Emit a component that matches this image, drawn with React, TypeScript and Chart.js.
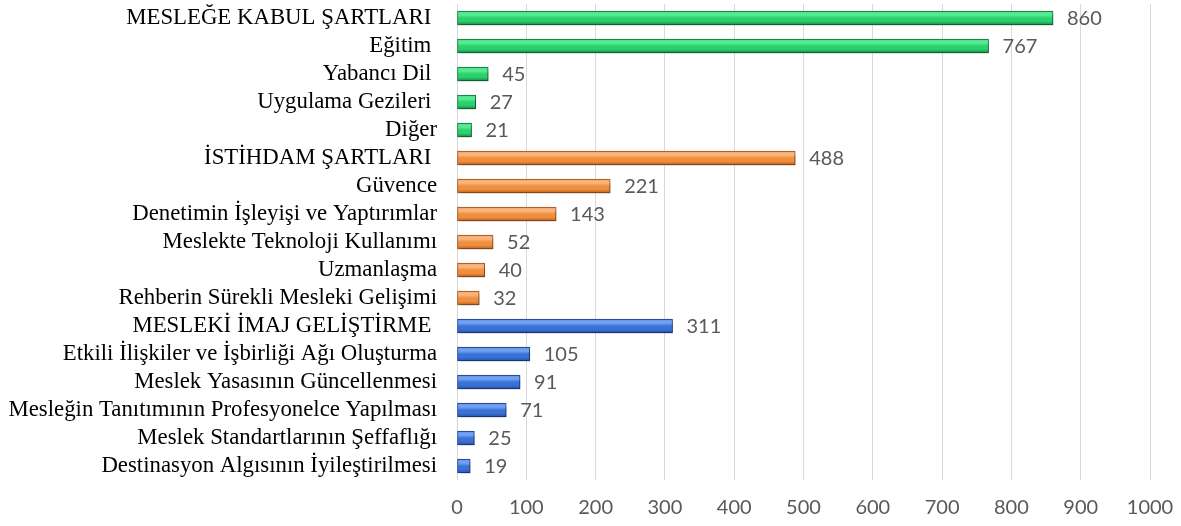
import React, { useEffect, useRef } from "react";
import { Chart, registerables } from "chart.js";

Chart.register(...registerables);

const categories = [
  "MESLEĞE KABUL ŞARTLARI ",
  "Eğitim ",
  "Yabancı Dil ",
  "Uygulama Gezileri ",
  "Diğer",
  "İSTİHDAM ŞARTLARI ",
  "Güvence",
  "Denetimin İşleyişi ve Yaptırımlar",
  "Meslekte Teknoloji Kullanımı",
  "Uzmanlaşma",
  "Rehberin Sürekli Mesleki Gelişimi",
  "MESLEKİ İMAJ GELİŞTİRME ",
  "Etkili İlişkiler ve İşbirliği Ağı Oluşturma",
  "Meslek Yasasının Güncellenmesi",
  "Mesleğin Tanıtımının Profesyonelce Yapılması",
  "Meslek Standartlarının Şeffaflığı",
  "Destinasyon Algısının İyileştirilmesi",
];

const values = [860, 767, 45, 27, 21, 488, 221, 143, 52, 40, 32, 311, 105, 91, 71, 25, 19];

// group of each category: 0 = green, 1 = orange, 2 = blue
const groups = [0, 0, 0, 0, 0, 1, 1, 1, 1, 1, 1, 2, 2, 2, 2, 2, 2];

const xTicks = [0, 100, 200, 300, 400, 500, 600, 700, 800, 900, 1000];

const palette = [
  { dark: "#137a3a", mid: "#20a957", base: "#2bd16f", light: "#55ea93" },
  { dark: "#a8561e", mid: "#d97530", base: "#f0903f", light: "#f8b47c" },
  { dark: "#1d4290", mid: "#2f5fc0", base: "#3a73d8", light: "#72a0f0" },
];

const BAR_H = 14;

const shadowPlugin = {
  id: "barShadow",
  beforeDatasetsDraw(chart: any) {
    const ctx = chart.ctx;
    ctx.save();
    ctx.shadowColor = "rgba(0,0,0,0.35)";
    ctx.shadowBlur = 4;
    ctx.shadowOffsetX = 2;
    ctx.shadowOffsetY = 3;
  },
  afterDatasetsDraw(chart: any) {
    chart.ctx.restore();
  },
};

const valueLabelPlugin = {
  id: "valueLabels",
  afterDraw(chart: any) {
    const ctx = chart.ctx;
    const meta = chart.getDatasetMeta(0);
    ctx.save();
    ctx.fillStyle = "#595959";
    ctx.font = "20px Lato, 'Open Sans', sans-serif";
    ctx.textAlign = "left";
    ctx.textBaseline = "middle";
    meta.data.forEach((bar: any, i: number) => {
      ctx.fillText(String(values[i]), bar.x + 14, bar.y + 1);
    });
    ctx.restore();
  },
};

export default function App() {
  const canvasRef = useRef<HTMLCanvasElement | null>(null);

  useEffect(() => {
    document.body.style.margin = "0";
    const canvas = canvasRef.current;
    if (!canvas) return;

    const makeFill = (c: any) => {
      const g = groups[c.dataIndex] ?? 0;
      const p = palette[g];
      const chart = c.chart;
      const yScale = chart.scales && chart.scales.y;
      if (!yScale || c.dataIndex == null) return p.base;
      const py = yScale.getPixelForValue(c.dataIndex);
      if (!Number.isFinite(py)) return p.base;
      const grad = chart.ctx.createLinearGradient(0, py - BAR_H / 2, 0, py + BAR_H / 2);
      grad.addColorStop(0, p.mid);
      grad.addColorStop(0.12, p.light);
      grad.addColorStop(0.3, p.light);
      grad.addColorStop(0.5, p.base);
      grad.addColorStop(0.72, p.base);
      grad.addColorStop(0.88, p.mid);
      grad.addColorStop(1, p.dark);
      return grad;
    };

    const chart = new Chart(canvas, {
      type: "bar",
      data: {
        labels: categories,
        datasets: [
          {
            data: values,
            backgroundColor: makeFill,
            borderColor: (c: any) => palette[groups[c.dataIndex] ?? 0].dark,
            borderWidth: 1,
            borderSkipped: false,
            barThickness: BAR_H,
          },
        ],
      },
      options: {
        indexAxis: "y",
        responsive: true,
        maintainAspectRatio: false,
        animation: false,
        layout: { padding: { left: 0, right: 31, top: 4, bottom: 0 } },
        plugins: {
          legend: { display: false },
          tooltip: { enabled: false },
        },
        scales: {
          x: {
            min: 0,
            max: 1000,
            afterBuildTicks: (scale: any) => {
              scale.ticks = xTicks.map((v) => ({ value: v }));
            },
            afterFit: (scale: any) => {
              scale.height = 46;
              scale.paddingLeft = 0;
              scale.paddingRight = 0;
              scale.paddingTop = 0;
              scale.paddingBottom = 0;
            },
            grid: { color: "#d9d9d9", drawTicks: false, lineWidth: 1 },
            border: { display: false },
            ticks: {
              color: "#595959",
              font: { family: "Lato, 'Open Sans', sans-serif", size: 20 },
              padding: 16,
              maxRotation: 0,
              callback: (v: any) => String(v),
            },
          },
          y: {
            afterFit: (scale: any) => {
              scale.width = 457;
              scale.paddingTop = 0;
              scale.paddingBottom = 0;
              scale.paddingLeft = 0;
              scale.paddingRight = 0;
            },
            grid: { display: false, drawTicks: false },
            border: { display: false },
            ticks: {
              color: "#000000",
              font: { family: "'Liberation Serif', 'Times New Roman', serif", size: 22.8 },
              padding: 20,
              autoSkip: false,
            },
          },
        },
      },
      plugins: [shadowPlugin, valueLabelPlugin],
    });
    chart.update();

    return () => chart.destroy();
  }, []);

  return (
    <div style={{ position: "relative", width: "1181px", height: "526px" }}>
      <canvas ref={canvasRef} />
    </div>
  );
}
